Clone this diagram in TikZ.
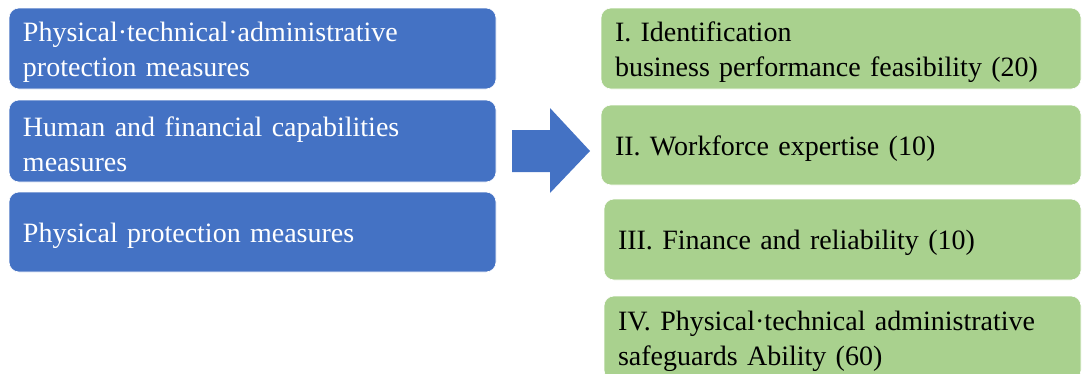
\documentclass[tikz,border=0pt]{standalone}
\usepackage{fontspec}
\setmainfont{Liberation Serif}
\definecolor{boxblue}{HTML}{4472C4}
\definecolor{boxgreen}{HTML}{A9D18E}
\begin{document}
\begin{tikzpicture}[x=1pt, y=-1pt,
    bluebox/.style={fill=boxblue, draw=white, line width=0.6pt, rounded corners=10pt,
        text=white, align=left, inner xsep=14pt, inner ysep=0pt, text height=27pt,
        text width=459pt, minimum width=487pt,
        font=\fontsize{28}{35}\selectfont},
    greenbox/.style={fill=boxgreen, draw=white, line width=0.6pt, rounded corners=10pt,
        text=black, align=left, inner xsep=14pt, inner ysep=0pt, text height=27pt,
        font=\fontsize{28}{35}\selectfont}]
    \useasboundingbox (0, 0) rectangle (1082, 373);

    \node[bluebox, minimum height=81pt] (ptam) at (252.5, 48.5) {Physical·technical·administrative\\protection measures};
    \node[bluebox, minimum height=82pt] (hfcm) at (252.5, 141) {Human and financial capabilities\\measures};
    \node[bluebox, minimum height=80pt] (ppm) at (252.5, 232) {Physical protection measures};

    \fill[boxblue] (512, 130) -- (550, 130) -- (550, 108) -- (590, 151)
        -- (550, 193) -- (550, 172) -- (512, 172) -- cycle;

    \node[greenbox, text width=452pt, minimum width=480pt, minimum height=81pt] (ident) at (841, 48.5) {I. Identification\\business performance feasibility (20)};
    \node[greenbox, text width=452pt, minimum width=480pt, minimum height=80pt] (work) at (841, 145) {II. Workforce expertise (10)};
    \node[greenbox, text width=449pt, minimum width=477pt, minimum height=81pt] (fin) at (842.5, 239.5) {III. Finance and reliability (10)};
    \node[greenbox, text width=449pt, minimum width=477pt, minimum height=84pt] (safe) at (842.5, 338) {IV. Physical·technical administrative\\safeguards Ability (60)};
\end{tikzpicture}
\end{document}
